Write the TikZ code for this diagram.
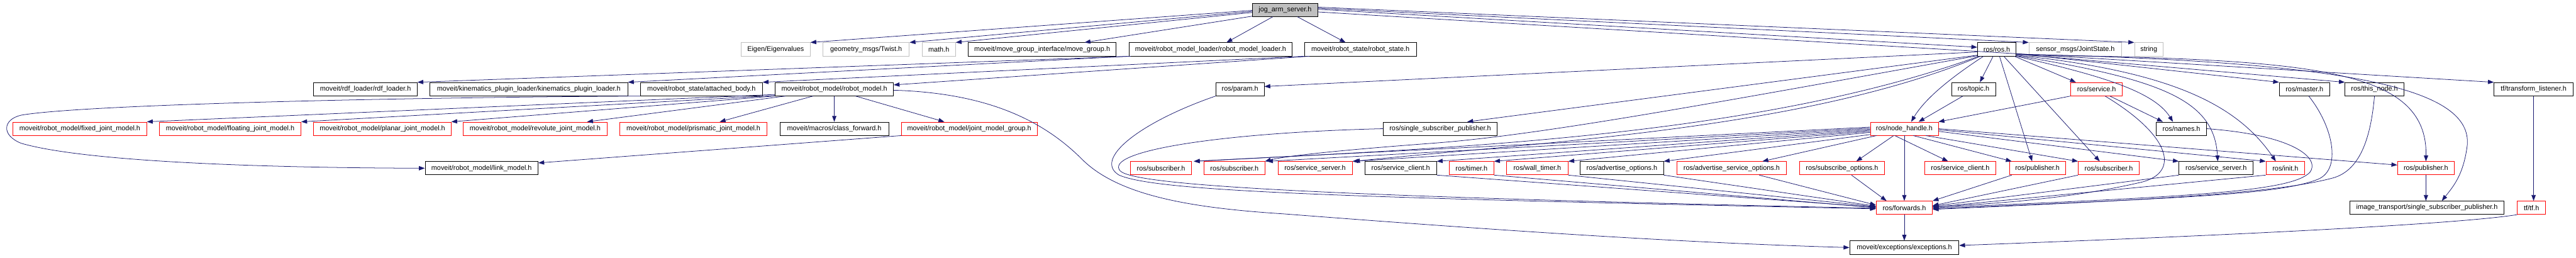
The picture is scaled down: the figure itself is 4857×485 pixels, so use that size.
\documentclass[tikz,border=0pt]{standalone}
\usepackage{fontspec}
\setmainfont{Liberation Sans}
\usetikzlibrary{arrows.meta,calc}
\definecolor{edgec}{HTML}{191970}
\definecolor{greyb}{HTML}{BFBFBF}
\tikzset{
  nb/.style={anchor=west, rectangle, line width=1pt, minimum height=25pt, inner sep=0pt, font=\fontsize{12.9pt}{15pt}\selectfont},
  blk/.style={nb, draw=black},
  redb/.style={nb, draw=red},
  gryb/.style={nb, draw=greyb},
  rootb/.style={nb, draw=black, fill=greyb},
  ed/.style={draw=edgec, line width=0.9pt, -{Triangle[length=11pt,width=8pt]}}
}
\begin{document}
\begin{tikzpicture}[x=1pt,y=-1pt]
\useasboundingbox (0,0) rectangle (4857,485);
\fill[white] (0,0) rectangle (4857,485);
% row 0
\node[rootb, minimum width=123pt] (J) at (2361,18.5) {jog\_arm\_server.h};
% row 1
\node[gryb, minimum width=130pt] (eig) at (1397,93) {Eigen/Eigenvalues};
\node[gryb, minimum width=163pt] (twist) at (1551,93) {geometry\_msgs/Twist.h};
\node[gryb, minimum width=63pt] (math) at (1738,93) {math.h};
\node[blk, minimum width=279pt] (mg) at (1825,93) {moveit/move\_group\_interface/move\_group.h};
\node[blk, minimum width=308pt] (rml) at (2128,93) {moveit/robot\_model\_loader/robot\_model\_loader.h};
\node[blk, minimum width=211pt] (rs) at (2459,93) {moveit/robot\_state/robot\_state.h};
\node[blk, minimum width=73pt] (ros) at (3728,93) {ros/ros.h};
\node[gryb, minimum width=175pt] (js) at (3825,93) {sensor\_msgs/JointState.h};
\node[gryb, minimum width=54pt] (str) at (4024,93) {string};
% row 2
\node[blk, minimum width=195pt] (rdf) at (591,168) {moveit/rdf\_loader/rdf\_loader.h};
\node[blk, minimum width=373pt] (kpl) at (810,168) {moveit/kinematics\_plugin\_loader/kinematics\_plugin\_loader.h};
\node[blk, minimum width=230pt] (ab) at (1207,168) {moveit/robot\_state/attached\_body.h};
\node[blk, minimum width=223pt] (rm) at (1461,168) {moveit/robot\_model/robot\_model.h};
\node[blk, minimum width=91pt] (param) at (2292,168) {ros/param.h};
\node[blk, minimum width=83pt] (topic) at (3679,168) {ros/topic.h};
\node[redb, minimum width=97pt] (service) at (3904,168) {ros/service.h};
\node[blk, minimum width=95pt] (master) at (4297,168) {ros/master.h};
\node[blk, minimum width=111pt] (thisnode) at (4421,168) {ros/this\_node.h};
\node[blk, minimum width=149pt] (tfl) at (4702,168) {tf/transform\_listener.h};
% row 3
\node[redb, minimum width=252pt] (fixed) at (24,242.5) {moveit/robot\_model/fixed\_joint\_model.h};
\node[redb, minimum width=267pt] (floating) at (300,242.5) {moveit/robot\_model/floating\_joint\_model.h};
\node[redb, minimum width=259pt] (planar) at (591,242.5) {moveit/robot\_model/planar\_joint\_model.h};
\node[redb, minimum width=271pt] (revolute) at (873,242.5) {moveit/robot\_model/revolute\_joint\_model.h};
\node[redb, minimum width=278pt] (prismatic) at (1168,242.5) {moveit/robot\_model/prismatic\_joint\_model.h};
\node[blk, minimum width=205pt] (cf) at (1470,242.5) {moveit/macros/class\_forward.h};
\node[redb, minimum width=256pt] (jmg) at (1699,242.5) {moveit/robot\_model/joint\_model\_group.h};
\node[blk, minimum width=214pt] (ssp) at (2608,242.5) {ros/single\_subscriber\_publisher.h};
\node[redb, minimum width=128pt] (nh) at (3526,242.5) {ros/node\_handle.h};
\node[blk, minimum width=95pt] (names) at (4065,242.5) {ros/names.h};
% row 4
\node[blk, minimum width=213pt] (link) at (801,317) {moveit/robot\_model/link\_model.h};
\node[redb, minimum width=115pt] (sub1) at (2131,317) {ros/subscriber.h};
\node[redb, minimum width=114pt] (sub2) at (2270,317) {ros/subscriber.h};
\node[redb, minimum width=140pt] (ss1) at (2409,317) {ros/service\_server.h};
\node[blk, minimum width=135pt] (sc1) at (2573,317) {ros/service\_client.h};
\node[redb, minimum width=84pt] (timer) at (2732,317) {ros/timer.h};
\node[redb, minimum width=116pt] (wtimer) at (2840,317) {ros/wall\_timer.h};
\node[blk, minimum width=157pt] (ao) at (2979,317) {ros/advertise\_options.h};
\node[redb, minimum width=207pt] (aso) at (3161,317) {ros/advertise\_service\_options.h};
\node[redb, minimum width=161pt] (so) at (3392,317) {ros/subscribe\_options.h};
\node[redb, minimum width=135pt] (sc2) at (3628,317) {ros/service\_client.h};
\node[redb, minimum width=106pt] (pub1) at (3788,317) {ros/publisher.h};
\node[redb, minimum width=115pt] (sub3) at (3918,317) {ros/subscriber.h};
\node[blk, minimum width=140pt] (ss2) at (4108,317) {ros/service\_server.h};
\node[redb, minimum width=73pt] (init) at (4272,317) {ros/init.h};
\node[redb, minimum width=107pt] (pub2) at (4520,317) {ros/publisher.h};
% row 5
\node[redb, minimum width=106pt] (fwd) at (3537,391.5) {ros/forwards.h};
\node[blk, minimum width=291pt] (its) at (4430,391.5) {image\_transport/single\_subscriber\_publisher.h};
\node[redb, minimum width=53pt] (tf) at (4746,391.5) {tf/tf.h};
% row 6
\node[blk, minimum width=206pt] (exc) at (3487,466.5) {moveit/exceptions/exceptions.h};

% ---- edges from jog_arm_server.h
\draw[ed] ($(J.west)+(0,1)$) -- (eig.north east);
\draw[ed] ($(J.west)+(0,3)$) -- (twist.north east);
\draw[ed] ($(J.west)+(0,5)$) -- (math.north east);
\draw[ed] ($(J.south west)+(0,-1)$) -- ($(mg.north east)+(-60,0)$);
\draw[ed] ($(J.south)+(-23,0)$) -- ($(rml.north)+(30,0)$);
\draw[ed] ($(J.south)+(23,0)$) -- ($(rs.north)+(-28,0)$);
\draw[ed] ($(J.east)+(0,-1)$) -- ($(ros.west)+(0,-4)$);
\draw[ed] ($(J.east)+(0,-3)$) -- (js.north west);
\draw[ed] ($(J.east)+(0,-5)$) -- (str.north west);
\draw[ed] ($(J.east)+(0,4)$) -- (tfl.north west);
% ---- robot_model_loader / robot_state
\draw[ed] ($(rml.south west)+(4,0)$) -- (rdf.north east);
\draw[ed] (rml.south west) -- (kpl.north east);
\draw[ed] (rs.south west) -- (ab.north east);
\draw[ed] ($(rs.south west)+(10,0)$) -- ($(rm.east)+(0,-8)$);
% ---- robot_model
\draw[ed] ($(rm.south west)+(0,-3)$) -- (fixed.north east);
\draw[ed] ($(rm.south west)+(0,-1)$) -- (floating.north east);
\draw[ed] (rm.south west) -- (planar.north east);
\draw[ed] ($(rm.south west)+(20,0)$) -- ($(revolute.north east)+(-38,0)$);
\draw[ed] ($(rm.south)+(-40,0)$) -- ($(prismatic.north east)+(-90,0)$);
\draw[ed] (rm.south) -- (cf.north);
\draw[ed] ($(rm.south)+(40,0)$) -- ($(jmg.north)+(-47,0)$);
\draw[ed] ($(rm.east)+(0,2)$) .. controls (1850,175) and (1960,220) .. (2040,300)
   .. controls (2110,370) and (2250,392) .. (2420,403)
   .. controls (2900,440) and (3200,458) .. (exc.west);
% ---- attached_body / joint_model_group -> link_model
\draw[ed] (ab.south west) .. controls (700,184) and (150,198) .. (40,217)
   .. controls (5,225) and (2,255) .. (40,270)
   .. controls (150,302) and (450,316) .. (link.west);
\draw[ed] (jmg.south west) -- ($(link.east)+(0,-10)$);
% ---- ros.h
\draw[ed] ($(ros.west)+(0,5)$) -- ($(param.east)+(0,-5)$);
\draw[ed] ($(ros.south west)+(0,-2)$) -- ($(ssp.north)+(51,0)$);
\draw[ed] ($(ros.south west)+(0,-1)$) .. controls (3200,200) and (2900,255) .. (2700,270)
   .. controls (2500,285) and (2420,295) .. (sub2.north east);
\draw[ed] ($(ros.south west)+(3,0)$) .. controls (3300,262) and (2700,280) .. ($(sub1.north east)+(4,0)$);
\draw[ed] ($(ros.south west)+(6,0)$) .. controls (3400,245) and (2900,268) .. ($(ss1.north east)+(3,0)$);
\draw[ed] ($(ros.south west)+(12,0)$) .. controls (3680,145) and (3630,185) .. ($(nh.north)+(13,0)$);
\draw[ed] ($(ros.south)+(-7,0)$) -- ($(topic.north)+(12,0)$);
\draw[ed] ($(ros.south east)+(-4,0)$) -- ($(service.north west)+(10,0)$);
\draw[ed] (ros.south east) .. controls (3950,140) and (4060,170) .. ($(names.north)+(-16,0)$);
\draw[ed] ($(ros.south)+(5,0)$) -- ($(pub1.north)+(-10,0)$);
\draw[ed] ($(ros.south)+(13,0)$) -- ($(sub3.north)+(-17,0)$);
\draw[ed] ($(ros.south east)+(0,-1)$) .. controls (4080,150) and (4175,190) .. ($(ss2.north)+(3,0)$);
\draw[ed] ($(ros.south east)+(0,-2)$) .. controls (4100,135) and (4220,200) .. ($(init.north)+(-18,0)$);
\draw[ed] ($(ros.east)+(0,8)$) -- (master.north west);
\draw[ed] ($(ros.east)+(0,9)$) -- (thisnode.north west);
\draw[ed] ($(ros.south east)+(0,-3)$) .. controls (4350,112) and (4577,125) .. (pub2.north);
\draw[ed] ($(ros.south east)+(0,-4)$) .. controls (4450,116) and (4660,170) .. (4652,273)
   .. controls (4645,330) and (4625,352) .. ($(its.north)+(28,0)$);
% ---- node_handle.h
\draw[ed] ($(nh.west)+(0,-3)$) -- ($(sub1.north east)+(4,0)$);
\draw[ed] ($(nh.west)+(0,-1)$) -- ($(sub2.north east)+(4,0)$);
\draw[ed] ($(nh.west)+(0,1)$) -- (ss1.north east);
\draw[ed] ($(nh.west)+(0,3)$) -- (sc1.north east);
\draw[ed] ($(nh.west)+(0,5)$) -- (timer.north east);
\draw[ed] ($(nh.west)+(0,7)$) -- (wtimer.north east);
\draw[ed] ($(nh.south west)+(0,-2)$) -- (ao.north east);
\draw[ed] ($(nh.south west)+(12,0)$) -- ($(aso.north)+(58,0)$);
\draw[ed] ($(nh.south)+(-20,0)$) -- ($(so.north)+(27,0)$);
\draw[ed] (nh.south) -- (fwd.north);
\draw[ed] ($(nh.south)+(-18,0)$) -- ($(sc2.north)+(-23,0)$);
\draw[ed] ($(nh.south)+(17,0)$) -- ($(pub1.north west)+(5,0)$);
\draw[ed] ($(nh.south east)+(-24,0)$) -- (sub3.north west);
\draw[ed] ($(nh.east)+(0,5)$) -- (ss2.north west);
\draw[ed] ($(nh.east)+(0,2)$) -- (init.north west);
\draw[ed] (nh.east) -- ($(pub2.west)+(0,-6)$);
% ---- topic, service
\draw[ed] ($(topic.south)+(-20,0)$) -- ($(nh.north)+(27,0)$);
\draw[ed] (service.south west) -- (nh.north east);
\draw[ed] ($(service.south)+(25,0)$) -- ($(names.north west)+(13,0)$);
\draw[ed] ($(service.south)+(16,0)$) .. controls (4100,260) and (4110,330) .. (4030,345)
   .. controls (3900,375) and (3750,385) .. ($(fwd.east)+(0,-2)$);
% ---- loops into forwards.h from the right
\draw[ed] (names.east) .. controls (4330,255) and (4375,300) .. (4355,325)
   .. controls (4320,360) and (4150,370) .. (fwd.east);
\draw[ed] ($(master.south)+(8,0)$) .. controls (4400,240) and (4415,320) .. (4370,338)
   .. controls (4300,365) and (4150,372) .. ($(fwd.east)+(0,2)$);
\draw[ed] (thisnode.south) .. controls (4470,260) and (4450,320) .. (4400,335)
   .. controls (4300,362) and (4100,375) .. ($(fwd.east)+(0,3)$);
\draw[ed] (init.south west) -- ($(fwd.east)+(0,-1)$);
\draw[ed] (ss2.south west) -- ($(fwd.east)+(0,-3)$);
\draw[ed] (sub3.south west) -- ($(fwd.east)+(0,-4)$);
\draw[ed] ($(pub1.south west)+(5,0)$) -- (fwd.north east);
% ---- into forwards.h from the left
\draw[ed] (ao.south east) -- ($(fwd.west)+(0,-3)$);
\draw[ed] ($(aso.south)+(52,0)$) -- ($(fwd.west)+(0,-5)$);
\draw[ed] ($(so.south)+(18,0)$) -- ($(fwd.north west)+(20,0)$);
\draw[ed] (sc1.south east) -- ($(fwd.west)+(0,-1)$);
\draw[ed] (timer.south east) -- (fwd.west);
\draw[ed] (wtimer.south east) -- ($(fwd.west)+(0,-2)$);
\draw[ed] (param.south west) .. controls (2150,230) and (2060,300) .. (2110,330)
   .. controls (2180,360) and (2500,372) .. ($(fwd.west)+(0,2)$);
\draw[ed] (ssp.west) .. controls (2300,250) and (2080,285) .. (2112,322)
   .. controls (2140,350) and (2500,370) .. ($(fwd.west)+(0,1)$);
% ---- bottom
\draw[ed] (fwd.south) -- (exc.north);
\draw[ed] (tf.south west) .. controls (4650,420) and (4300,440) .. ($(exc.east)+(0,-4)$);
\draw[ed] (tfl.south) -- (tfl.south |- tf.north);
\draw[ed] (pub2.south) -- (pub2.south |- its.north);
\end{tikzpicture}
\end{document}
